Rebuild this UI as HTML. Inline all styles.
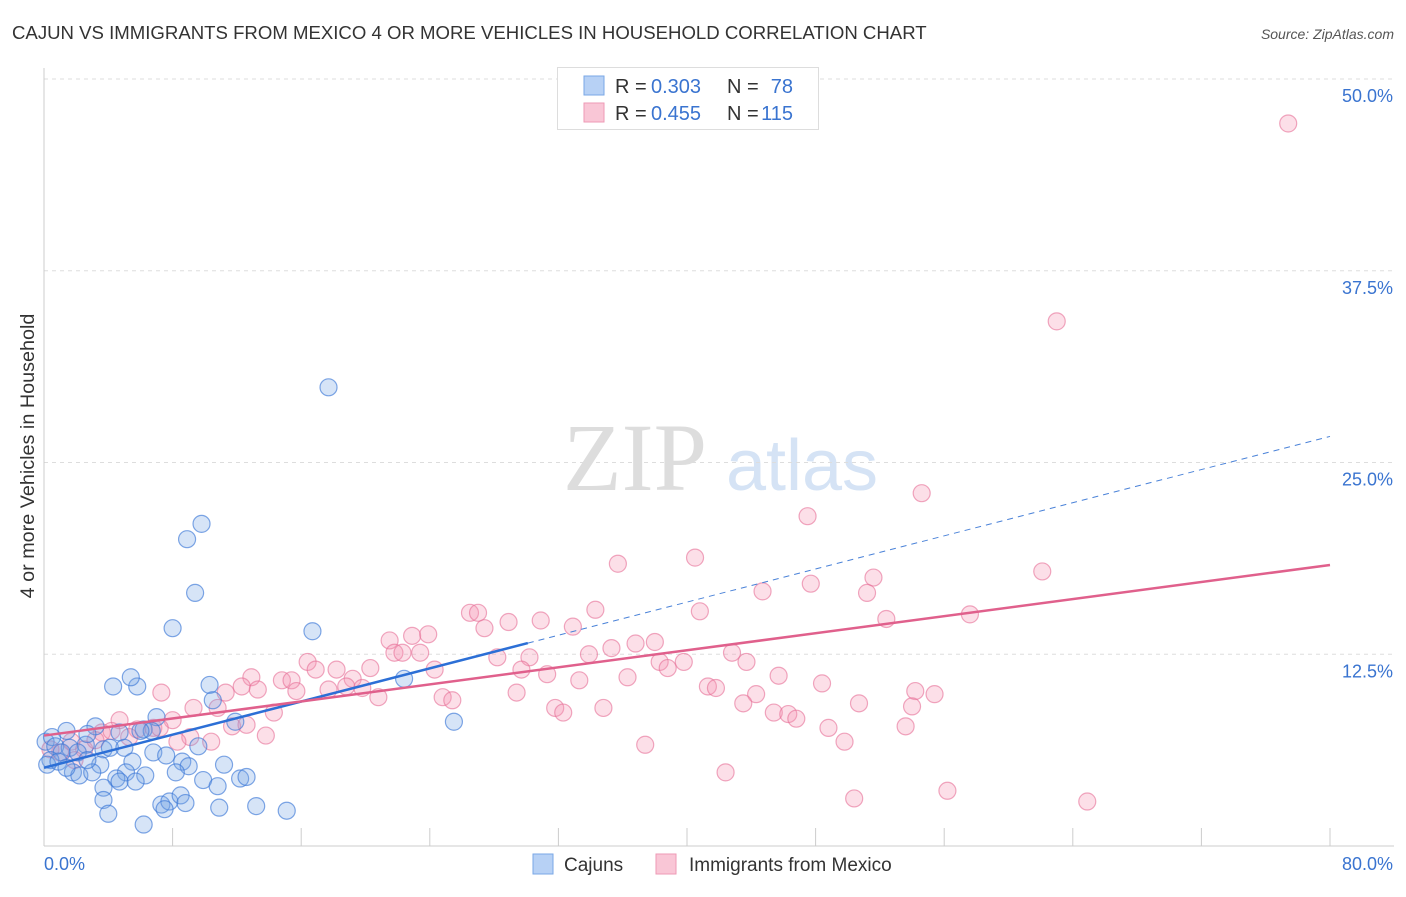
<!DOCTYPE html>
<html><head><meta charset="utf-8">
<style>
body{margin:0;background:#fff;font-family:"Liberation Sans",sans-serif;}
svg text{font-family:"Liberation Sans",sans-serif;}
</style></head>
<body>
<svg id="chart" width="1406" height="892">
  <text x="12" y="39" font-size="18.6" fill="#333">CAJUN VS IMMIGRANTS FROM MEXICO 4 OR MORE VEHICLES IN HOUSEHOLD CORRELATION CHART</text>
  <text x="1394" y="39" font-size="14" fill="#555" font-style="italic" text-anchor="end">Source: ZipAtlas.com</text>
  <g>
    <text x="635" y="490" font-size="96" fill="#ddd" text-anchor="middle" style="font-family:'Liberation Serif',serif">ZIP</text>
    <text x="802" y="490" font-size="72" fill="#d5e3f5" text-anchor="middle">atlas</text>
  </g>
  <g id="grid"></g>
  <g id="axes"></g>
  <g id="pts"></g>
  <g id="trends"></g>
  <text transform="translate(34,456) rotate(-90)" font-size="19.8" fill="#333" text-anchor="middle">4 or more Vehicles in Household</text>
  <g>
    <rect x="557.5" y="67.5" width="261" height="62" fill="#fff" stroke="#ddd"/>
    <rect x="584" y="76" width="20" height="19" fill="#b7d1f5" stroke="#7aa7e6"/>
    <rect x="584" y="103" width="20" height="19" fill="#f9c6d6" stroke="#ee9ab5"/>
    <g>
      <text x="615" y="93" font-size="20" fill="#333">R =</text>
      <text x="651" y="93" font-size="20" fill="#3a74d0">0.303</text>
      <text x="727" y="93" font-size="20" fill="#333">N =</text>
      <text x="793" y="93" font-size="20" fill="#3a74d0" text-anchor="end">78</text>
    </g>
    <g>
      <text x="615" y="120" font-size="20" fill="#333">R =</text>
      <text x="651" y="120" font-size="20" fill="#3a74d0">0.455</text>
      <text x="727" y="120" font-size="20" fill="#333">N =</text>
      <text x="793" y="120" font-size="20" fill="#3a74d0" text-anchor="end">115</text>
    </g>
  </g>
  <g>
    <rect x="533" y="854" width="20" height="20" fill="#b7d1f5" stroke="#7aa7e6"/>
    <text x="564" y="871" font-size="19" fill="#333">Cajuns</text>
    <rect x="656" y="854" width="20" height="20" fill="#f9c6d6" stroke="#ee9ab5"/>
    <text x="689" y="871" font-size="19" fill="#333">Immigrants from Mexico</text>
  </g>
</svg>
<script>
const blueX=[17.7,9.8,8.9,9.4,8.0,16.7,4.3,5.8,5.4,10.3,22.4,7.0,11.9,25.5,0.1,0.5,1.4,3.2,4.7,6.2,6.7,0.7,1.6,2.6,3.7,2.7,1.1,2.1,4.1,5.0,6.0,5.5,3.5,6.8,7.6,9.6,8.6,9.0,11.2,5.1,1.8,2.2,3.0,4.5,6.3,8.2,9.9,12.2,12.6,10.8,3.7,4.7,5.7,3.7,7.3,7.8,8.5,8.8,7.5,10.9,13.2,15.1,4.0,6.2,0.4,0.2,0.9,1.4,2.7,10.5];
const blueY=[29.9,21.0,20.0,16.5,14.2,14.0,10.4,10.4,11.0,10.5,10.9,8.4,8.1,8.1,6.8,7.1,7.5,7.8,7.4,7.6,7.5,6.5,6.4,6.6,6.3,7.3,6.1,6.1,6.4,6.4,7.5,5.5,5.3,6.1,5.9,6.5,5.5,5.2,5.3,4.8,4.8,4.6,4.8,4.4,4.6,4.8,4.3,4.4,4.5,3.9,3.8,4.2,4.2,3.0,2.7,2.9,3.3,2.8,2.4,2.5,2.6,2.3,2.1,1.4,5.6,5.3,5.5,5.1,5.6,9.5];
const pinkX=[77.4,63.0,54.6,47.5,40.5,35.7,62.1,51.6,47.7,44.7,51.2,34.3,40.8,26.5,27.0,30.9,28.9,27.4,32.9,52.4,57.6,21.5,22.9,23.9,38.0,36.8,21.8,22.3,23.4,28.2,30.2,33.9,35.3,39.8,38.3,38.8,42.8,43.7,24.3,29.7,31.3,33.3,36.3,45.7,16.4,16.9,18.2,20.3,14.8,15.4,19.2,19.8,20.8,12.9,12.3,13.3,15.7,17.7,18.8,11.3,7.3,24.8,25.4,29.4,41.3,41.8,44.3,48.4,54.2,55.4,43.5,50.7,54.0,31.8,32.3,34.8,45.4,46.3,46.8,48.8,49.8,53.6,14.3,10.8,9.3,8.0,4.7,3.6,5.8,6.8,9.1,13.8,10.4,8.3,37.4,42.4,50.4,56.2,64.9,1.0,1.7,2.5,3.2,4.2,5.3,7.2,1.9,0.4,11.7,12.6];
const pinkY=[47.1,34.2,23.0,21.5,18.8,18.4,17.9,17.5,17.1,16.6,16.5,15.4,15.3,15.2,15.2,14.7,14.6,14.2,14.3,14.8,15.1,13.4,13.7,13.8,13.3,13.2,12.6,12.6,12.6,12.3,12.3,12.5,12.9,12.0,12.0,11.6,12.6,12.0,11.5,11.5,11.2,10.8,11.0,11.1,12.0,11.5,11.5,11.6,10.8,10.8,10.9,10.3,9.7,11.0,10.4,10.2,10.1,10.2,10.4,10.0,10.0,9.7,9.5,10.0,10.4,10.3,9.9,10.6,10.1,9.9,9.3,9.3,9.1,9.0,8.7,9.0,8.7,8.6,8.3,7.7,6.8,7.8,8.7,9.0,9.0,8.2,8.2,7.4,7.6,7.7,7.1,7.2,6.8,6.8,6.6,4.8,3.1,3.6,2.9,6.1,6.8,6.3,6.9,7.5,7.1,7.7,5.6,6.3,7.8,7.9];
const blueTrend=[5.1,0.27];   // intercept, slope
const pinkTrend=[7.2,0.139];
const yTicks=[12.5,25.0,37.5,50.0];
const yTickLabels=["12.5%","25.0%","37.5%","50.0%"];
const xTicks=[0,8,16,24,32,40,48,56,64,72,80];

const NS="http://www.w3.org/2000/svg";
const X0=44,X1=1330,Y0=846,YT=79;
const sx=v=>X0+(v/80)*(X1-X0);
const sy=v=>Y0-(v/50)*(Y0-YT);
function mk(tag,attrs,parent){const e=document.createElementNS(NS,tag);for(const k in attrs)e.setAttribute(k,attrs[k]);parent.appendChild(e);return e;}
const grid=document.getElementById('grid'),axes=document.getElementById('axes'),pts=document.getElementById('pts'),tr=document.getElementById('trends');
yTicks.forEach((t,i)=>{
  const l=mk('line',{x1:X0,x2:1394,y1:sy(t),y2:sy(t),stroke:'#ddd','stroke-dasharray':'4,4'},grid);
  
  
  const tx=mk('text',{x:1393,y:sy(t)+23,'font-size':18,fill:'#3a74d0','text-anchor':'end'},axes);
  tx.textContent=yTickLabels[i];
  
  
});
const ax=mk('line',{x1:X0,x2:1394,y1:Y0,y2:Y0,stroke:'#ccc'},axes);


const ay=mk('line',{x1:X0,x2:X0,y1:68,y2:Y0,stroke:'#ccc'},axes);


xTicks.forEach(t=>{
  const l=mk('line',{x1:sx(t),x2:sx(t),y1:Y0-18,y2:Y0,stroke:'#ccc'},axes);
  
  
});
const xl0=mk('text',{x:44,y:870,'font-size':18,fill:'#3a74d0'},axes);xl0.textContent='0.0%';


const xl1=mk('text',{x:1393,y:870,'font-size':18,fill:'#3a74d0','text-anchor':'end'},axes);xl1.textContent='80.0%';


pinkX.forEach((x,i)=>{
  const c=mk('circle',{cx:sx(x),cy:sy(pinkY[i]),r:8.5,fill:'rgba(245,150,180,0.3)',stroke:'rgba(230,110,150,0.6)','stroke-width':1.2},pts);
  
  
});
blueX.forEach((x,i)=>{
  const c=mk('circle',{cx:sx(x),cy:sy(blueY[i]),r:8.5,fill:'rgba(120,165,230,0.3)',stroke:'rgba(60,120,215,0.65)','stroke-width':1.2},pts);
  
  
});
const bMax=30.1;
const bl=mk('line',{x1:sx(0),y1:sy(blueTrend[0]),x2:sx(bMax),y2:sy(blueTrend[0]+blueTrend[1]*bMax),stroke:'#2c6fd6','stroke-width':2.5},tr);


const bd=mk('line',{x1:sx(bMax),y1:sy(blueTrend[0]+blueTrend[1]*bMax),x2:sx(80),y2:sy(blueTrend[0]+blueTrend[1]*80),stroke:'#4a82d8','stroke-width':1,'stroke-dasharray':'6,5'},tr);


const pl=mk('line',{x1:sx(0),y1:sy(pinkTrend[0]),x2:sx(80),y2:sy(pinkTrend[0]+pinkTrend[1]*80),stroke:'#e0608c','stroke-width':2.5},tr);


</script>
</body></html>
